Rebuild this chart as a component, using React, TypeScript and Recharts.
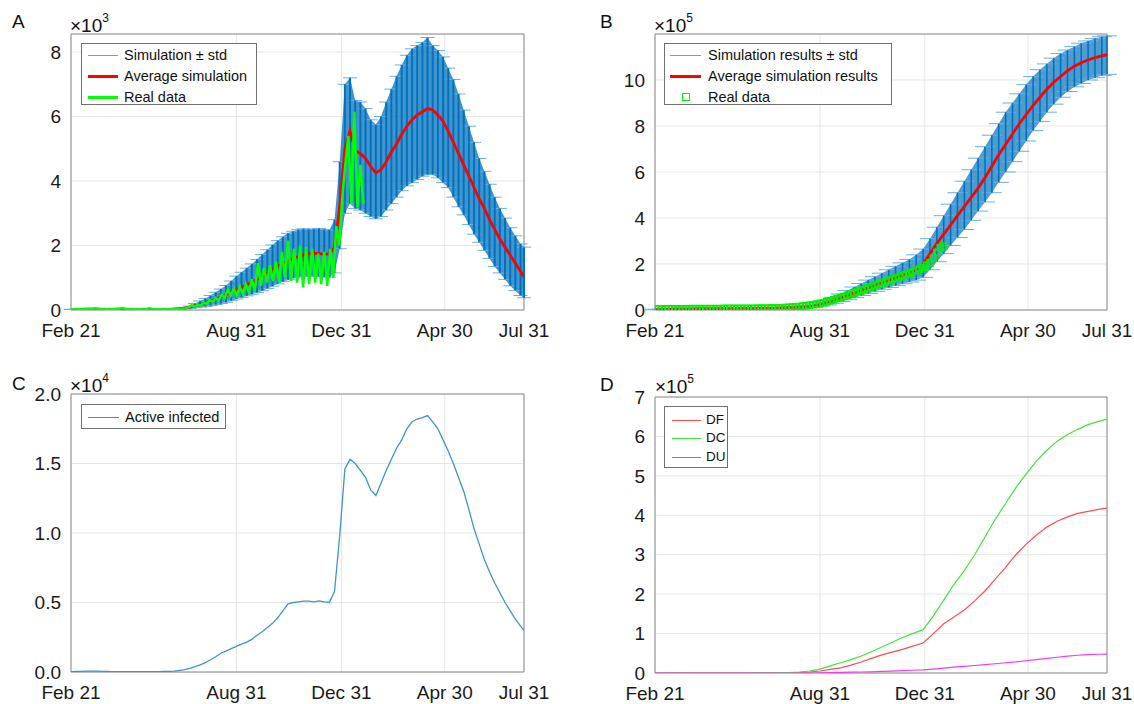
import React from "react";
import { ComposedChart, Line, Area, Scatter, XAxis, YAxis, CartesianGrid, ErrorBar, ReferenceArea } from "recharts";

const END_DAY = 526; // Feb 21 (2020) -> Jul 31 (2021)
const X_TICKS = [0, 192, 314, 434, 526];
const X_LABELS = ["Feb 21", "Aug 31", "Dec 31", "Apr 30", "Jul 31"];

// A: daily cases (x10^3), every 6 days, last point on Jul 31
const A_STEP = 6;
const aMean = [
  0.02, 0.02, 0.02, 0.03, 0.03, 0.03, 0.02, 0.02, 0.02, 0.03, 0.03, 0.02, 0.02, 0.02, 0.02, 0.02, 0.02, 0.02, 0.02, 0.02, 0.03,
  0.04, 0.06, 0.09, 0.13, 0.17, 0.22, 0.28, 0.34, 0.4, 0.47,
  0.55, 0.63, 0.7, 0.78, 0.86, 0.95, 1.04, 1.14, 1.25, 1.35,
  1.44, 1.52, 1.6, 1.66, 1.71, 1.74, 1.76, 1.75, 1.73, 1.74,
  1.95, 3.2, 5.0, 5.55, 4.95, 4.85, 4.7, 4.45, 4.25, 4.35,
  4.6, 4.9, 5.15, 5.45, 5.7, 5.9, 6.05, 6.15, 6.25, 6.2,
  6.05, 5.85, 5.55, 5.2, 4.85, 4.5, 4.15, 3.8, 3.45, 3.15,
  2.8, 2.5, 2.2, 1.95, 1.7, 1.45, 1.2,
  1.02,
];
const aUpper = [
  0.02, 0.02, 0.02, 0.03, 0.03, 0.03, 0.02, 0.02, 0.02, 0.03, 0.03, 0.02, 0.02, 0.02, 0.02, 0.02, 0.02, 0.02, 0.03, 0.03, 0.04,
  0.06, 0.08, 0.12, 0.2, 0.28, 0.36, 0.45, 0.55, 0.65, 0.76,
  0.9, 1.05, 1.17, 1.3, 1.43, 1.57, 1.72, 1.87, 2.02, 2.15,
  2.27, 2.38, 2.44, 2.49, 2.52, 2.5, 2.51, 2.53, 2.5, 2.48,
  2.8, 4.6, 7.0, 7.2, 6.5, 6.45, 6.25, 5.9, 5.75, 6.0,
  6.45, 6.85, 7.25, 7.6, 7.9, 8.1, 8.2, 8.3, 8.45, 8.2,
  8.05, 7.85, 7.5, 7.15, 6.7, 6.2, 5.7, 5.2, 4.7, 4.3,
  3.9, 3.5, 3.15, 2.85, 2.55, 2.3, 2.05,
  1.95,
];
const aLower = [
  0.02, 0.02, 0.02, 0.02, 0.02, 0.02, 0.02, 0.02, 0.02, 0.02, 0.02, 0.02, 0.02, 0.02, 0.02, 0.02, 0.02, 0.02, 0.02, 0.02, 0.02,
  0.02, 0.03, 0.05, 0.07, 0.09, 0.11, 0.14, 0.17, 0.2, 0.24,
  0.29, 0.34, 0.39, 0.44, 0.49, 0.54, 0.6, 0.67, 0.74, 0.81,
  0.88, 0.94, 0.99, 1.02, 1.04, 1.05, 1.05, 1.04, 1.03, 1.02,
  1.15, 1.9, 3.0, 3.3, 3.15, 3.1, 3.0, 2.9, 2.83, 2.9,
  3.1, 3.3, 3.5, 3.7, 3.85, 3.95, 4.05, 4.15, 4.2, 4.2,
  4.1, 3.95, 3.8, 3.5, 3.2, 2.95, 2.65, 2.35, 2.1, 1.85,
  1.6, 1.35, 1.15, 0.95, 0.75, 0.6, 0.45,
  0.38,
];
// A: real data, every 3.5 days
const A_REAL_STEP = 3.5;
const aReal = [
  0.02, 0.02, 0.03, 0.02, 0.03, 0.03, 0.04, 0.03, 0.05, 0.04,
  0.03, 0.03, 0.02, 0.03, 0.02, 0.03, 0.04, 0.06, 0.04, 0.03,
  0.03, 0.02, 0.02, 0.02, 0.03, 0.03, 0.05, 0.03, 0.02, 0.02,
  0.02, 0.03, 0.02, 0.02, 0.03, 0.02, 0.03, 0.04, 0.05, 0.08,
  0.15, 0.1, 0.16, 0.14, 0.22, 0.2, 0.3, 0.26, 0.38, 0.3,
  0.48, 0.38, 0.62, 0.45, 0.66, 0.45, 0.72, 0.5, 0.8, 0.55,
  0.95, 0.6, 1.45, 0.75, 1.3, 0.85, 1.4, 0.9, 1.5, 0.85,
  1.8, 1.0, 2.15, 0.9, 1.9, 0.85, 2.0, 0.7, 1.95, 0.8,
  1.9, 0.85, 1.75, 0.8, 1.8, 0.75, 1.9, 1.0, 2.6, 2.0,
  3.5, 4.5, 5.4, 3.3, 6.15, 3.2, 4.5, 3.3,
];

// B: cumulative cases (x10^5), every 8 days, last point on Jul 31
const B_STEP = 8;
const bMean = [
  0.02, 0.03, 0.04, 0.05, 0.05, 0.05, 0.06, 0.06, 0.06, 0.06, 0.07, 0.07, 0.07, 0.07, 0.07, 0.08, 0.08, 0.08,
  0.09, 0.1, 0.11, 0.12, 0.14, 0.17, 0.22, 0.3, 0.4, 0.52,
  0.63, 0.74, 0.85, 0.97, 1.08, 1.19, 1.3, 1.41, 1.52, 1.63,
  1.76, 2.0, 2.45, 2.9, 3.3, 3.7, 4.1, 4.5, 4.9, 5.3,
  5.75, 6.25, 6.75, 7.2, 7.65, 8.1, 8.5, 8.9, 9.25, 9.6,
  9.9, 10.15, 10.4, 10.6, 10.75, 10.87, 10.97, 11.05,
  11.1,
];
const bUpper = [
  0.03, 0.04, 0.05, 0.06, 0.06, 0.06, 0.07, 0.07, 0.07, 0.07, 0.08, 0.08, 0.08, 0.08, 0.08, 0.09, 0.09, 0.1,
  0.11, 0.12, 0.14, 0.17, 0.2, 0.26, 0.33, 0.43, 0.55, 0.7,
  0.85, 1.0, 1.15, 1.3, 1.45, 1.6, 1.75, 1.9, 2.05, 2.2,
  2.4, 2.65, 3.1, 3.6, 4.1, 4.6, 5.1, 5.6, 6.1, 6.6,
  7.1, 7.6, 8.1, 8.6, 9.0, 9.4, 9.8, 10.15, 10.45, 10.7,
  10.95, 11.15, 11.3, 11.45, 11.6, 11.7, 11.8, 11.88,
  11.92,
];
const bLower = [
  0.01, 0.02, 0.03, 0.04, 0.04, 0.04, 0.05, 0.05, 0.05, 0.05, 0.06, 0.06, 0.06, 0.06, 0.06, 0.07, 0.07, 0.07,
  0.08, 0.09, 0.09, 0.1, 0.11, 0.12, 0.17, 0.22, 0.29, 0.37,
  0.45, 0.54, 0.63, 0.72, 0.81, 0.9, 0.98, 1.06, 1.14, 1.22,
  1.3, 1.42, 1.75, 2.1, 2.45, 2.8, 3.15, 3.5, 3.9, 4.3,
  4.7, 5.1, 5.55, 6.0, 6.45, 6.9, 7.35, 7.8, 8.2, 8.6,
  8.95, 9.25, 9.5, 9.7, 9.85, 10.0, 10.1, 10.2,
  10.25,
];
// B: real data, every 4 days
const B_REAL_STEP = 4;
const bReal = [
  0.04, 0.04, 0.04, 0.05, 0.05, 0.05, 0.05, 0.05, 0.05, 0.05,
  0.06, 0.06, 0.06, 0.06, 0.06, 0.06, 0.06, 0.06, 0.06, 0.06,
  0.07, 0.07, 0.07, 0.07, 0.07, 0.07, 0.07, 0.07, 0.07, 0.07,
  0.08, 0.08, 0.08, 0.08, 0.09, 0.09,
  0.1, 0.1, 0.11, 0.12, 0.13, 0.14, 0.15, 0.17, 0.19, 0.21,
  0.23, 0.26, 0.28, 0.32, 0.36, 0.4, 0.45, 0.5, 0.54, 0.59,
  0.64, 0.69, 0.74, 0.8, 0.85, 0.9, 0.96, 1.01, 1.07, 1.12,
  1.17, 1.22, 1.28, 1.33, 1.38, 1.43, 1.49, 1.54, 1.6, 1.65,
  1.72, 1.78, 1.85, 1.95, 2.05, 2.25, 2.5, 2.7, 2.78,
];

// C: active infected (x10^4), every 6 days, last point on Jul 31
const C_STEP = 6;
const cActive = [
  0.003, 0.004, 0.005, 0.006, 0.007, 0.006, 0.005, 0.004, 0.003, 0.003, 0.003, 0.003, 0.003, 0.003, 0.003, 0.003, 0.003, 0.003, 0.004, 0.005, 0.007,
  0.011, 0.017, 0.026, 0.038, 0.052, 0.068, 0.088, 0.11, 0.135, 0.15,
  0.168, 0.185, 0.2, 0.215, 0.235, 0.265, 0.29, 0.32, 0.35, 0.39,
  0.44, 0.49, 0.5, 0.505, 0.51, 0.51, 0.505, 0.512, 0.505, 0.5,
  0.58, 0.98, 1.46, 1.53, 1.5, 1.45, 1.4, 1.31, 1.27, 1.36,
  1.45, 1.53, 1.61, 1.67, 1.75, 1.8, 1.82, 1.83, 1.845, 1.8,
  1.75, 1.67, 1.59, 1.5, 1.4, 1.3, 1.17, 1.03, 0.92, 0.81,
  0.72, 0.64, 0.57, 0.5, 0.44, 0.38, 0.33,
  0.3,
];

// D: deaths by category (x10^5), every 12 days, last point on Jul 31
const D_STEP = 12;
const dDF = [
  0, 0, 0, 0, 0, 0, 0, 0, 0, 0, 0, 0, 0, 0,
  0.01, 0.025, 0.05, 0.09, 0.13, 0.2, 0.28, 0.37, 0.46, 0.53, 0.6, 0.68, 0.76,
  1.0, 1.25, 1.42, 1.6, 1.83, 2.08, 2.38, 2.68, 3.0, 3.27, 3.5, 3.7, 3.85, 3.96, 4.05, 4.1, 4.15,
  4.18,
];
const dDC = [
  0, 0, 0, 0, 0, 0, 0, 0, 0, 0,
  0.002, 0.004, 0.007, 0.012, 0.02, 0.05, 0.1, 0.18, 0.26, 0.34, 0.43, 0.54, 0.66, 0.78, 0.9, 1.0, 1.1,
  1.45, 1.85, 2.25, 2.6, 3.0, 3.45, 3.9, 4.3, 4.7, 5.05, 5.38, 5.65, 5.88, 6.05, 6.18, 6.3, 6.38,
  6.44,
];
const dDU = [
  0, 0, 0, 0, 0, 0, 0, 0, 0, 0, 0, 0, 0, 0, 0, 0,
  0.005, 0.01, 0.015, 0.02, 0.025, 0.03, 0.04, 0.05, 0.06, 0.07, 0.08,
  0.1, 0.125, 0.15, 0.17, 0.19, 0.21, 0.235, 0.26, 0.28, 0.31, 0.34, 0.37, 0.4, 0.43, 0.45, 0.465, 0.475,
  0.48,
];

const rowsOf = (step: number, cols: Record<string, number[]>, toEnd: boolean) => {
  const keys = Object.keys(cols);
  const n = cols[keys[0]].length;
  return Array.from({ length: n }, (_, i) => {
    const row: any = { day: toEnd && i === n - 1 ? END_DAY : i * step };
    keys.forEach((k) => (row[k] = cols[k][i]));
    return row;
  });
};

const withBand = (rows: any[]) =>
  rows.map((r) => ({ ...r, band: [r.lo, r.hi], err: [r.mean - r.lo, r.hi - r.mean] }));

const aRows = withBand(rowsOf(A_STEP, { mean: aMean, hi: aUpper, lo: aLower }, true));
const aRealRows = rowsOf(A_REAL_STEP, { v: aReal }, false);
const bRows = withBand(rowsOf(B_STEP, { mean: bMean, hi: bUpper, lo: bLower }, true));
const bRealRows = rowsOf(B_REAL_STEP, { v: bReal }, false);
const cRows = rowsOf(C_STEP, { active: cActive }, true);
const dRows = rowsOf(D_STEP, { DF: dDF, DC: dDC, DU: dDU }, true);

const FONT = "'Liberation Sans', Arial, Helvetica, sans-serif";
const tickStyle = { fontSize: 19, fill: "#1a1a1a", fontFamily: FONT };
const GRID = "#e6e6e6";
const BOX = "#8c8c8c";
const BLUE = "#0072BD";

const xAxisProps: any = {
  type: "number",
  dataKey: "day",
  domain: [0, END_DAY],
  ticks: X_TICKS,
  tickFormatter: (v: number) => X_LABELS[X_TICKS.indexOf(v)],
  interval: 0,
  tickLine: false,
  axisLine: false,
  tickSize: 0,
  tickMargin: 14,
  tick: tickStyle,
  height: 30,
  allowDataOverflow: true,
};
const yAxisProps: any = {
  type: "number",
  interval: 0,
  tickLine: false,
  axisLine: false,
  tickSize: 0,
  tickMargin: 10,
  tick: tickStyle,
  allowDataOverflow: true,
};

const Square = (props: any) => {
  const { cx, cy } = props;
  if (cx == null || cy == null) return null;
  return <rect x={cx - 3} y={cy - 3} width={6} height={6} fill="none" stroke="#00f000" strokeWidth={1.5} />;
};

type Row = { label: string; color: string; width: number; kind?: "line" | "square" };

const LegendBox = ({ left, top, width, height, rows, rowY, sampleX, sampleW, textX, fontSize }: any) => (
  <div
    style={{
      position: "absolute",
      left,
      top,
      width,
      height,
      border: "1px solid #707070",
      background: "#fff",
      boxSizing: "border-box",
      fontSize,
      fontFamily: FONT,
      color: "#111",
    }}
  >
    {rows.map((r: Row, i: number) => (
      <React.Fragment key={r.label}>
        {r.kind === "square" ? (
          <div
            style={{
              position: "absolute",
              left: sampleX + sampleW / 2 - 4,
              top: rowY[i] - 4,
              width: 8,
              height: 8,
              border: `1.5px solid ${r.color}`,
              boxSizing: "border-box",
            }}
          />
        ) : (
          <div
            style={{
              position: "absolute",
              left: sampleX,
              top: rowY[i] - r.width / 2,
              width: sampleW,
              height: r.width,
              background: r.color,
            }}
          />
        )}
        <div style={{ position: "absolute", left: textX, top: rowY[i] - 10, height: 20, lineHeight: "20px", whiteSpace: "nowrap" }}>
          {r.label}
        </div>
      </React.Fragment>
    ))}
  </div>
);

const Letter = ({ left, top, text }: any) => (
  <div style={{ position: "absolute", left, top, fontSize: 19, lineHeight: "19px", fontFamily: FONT, color: "#111" }}>{text}</div>
);

const Exponent = ({ left, top, exp }: any) => (
  <div style={{ position: "absolute", left, top, fontSize: 19, lineHeight: "19px", fontFamily: FONT, color: "#111", whiteSpace: "nowrap" }}>
    ×10<span style={{ fontSize: 12, position: "relative", top: -10 }}>{exp}</span>
  </div>
);

const App = () => {
  return (
    <div style={{ position: "absolute", left: 0, top: 0, width: 1134, height: 704, background: "#fff", fontFamily: FONT }}>
      {/* A */}
      <div style={{ position: "absolute", left: 0, top: 0 }}>
        <ComposedChart width={567} height={352} margin={{ top: 34, right: 43, bottom: 12, left: 0 }}>
          <CartesianGrid stroke={GRID} />
          <XAxis {...xAxisProps} />
          <YAxis {...yAxisProps} width={71} domain={[0, 8.56]} ticks={[0, 2, 4, 6, 8]} />
          <Area data={aRows} dataKey="band" stroke="none" fill={BLUE} fillOpacity={0.75} isAnimationActive={false} />
          <Line data={aRows} dataKey="mean" stroke="none" dot={false} isAnimationActive={false}>
            <ErrorBar dataKey="err" direction="y" width={7} stroke="#6aaee6" strokeWidth={1} isAnimationActive={false} />
            <ErrorBar dataKey="err" direction="y" width={0} stroke={BLUE} strokeWidth={2} isAnimationActive={false} />
          </Line>
          <Line data={aRows} dataKey="mean" stroke="#ff0000" strokeWidth={2.8} dot={false} isAnimationActive={false} />
          <Line data={aRealRows} dataKey="v" stroke="#00ff00" strokeWidth={2.5} dot={false} isAnimationActive={false} />
          <ReferenceArea x1={0} x2={END_DAY} y1={0} y2={8.56} fill="none" stroke={BOX} strokeWidth={1} ifOverflow="visible" />
        </ComposedChart>
      </div>

      {/* B */}
      <div style={{ position: "absolute", left: 567, top: 0 }}>
        <ComposedChart width={567} height={352} margin={{ top: 34, right: 27, bottom: 12, left: 0 }}>
          <CartesianGrid stroke={GRID} />
          <XAxis {...xAxisProps} />
          <YAxis {...yAxisProps} width={88} domain={[0, 12]} ticks={[0, 2, 4, 6, 8, 10]} />
          <Area data={bRows} dataKey="band" stroke="none" fill={BLUE} fillOpacity={0.7} isAnimationActive={false} />
          <Line data={bRows} dataKey="mean" stroke="none" dot={false} isAnimationActive={false}>
            <ErrorBar dataKey="err" direction="y" width={10} stroke="#6aaee6" strokeWidth={1} isAnimationActive={false} />
            <ErrorBar dataKey="err" direction="y" width={0} stroke={BLUE} strokeWidth={1.6} isAnimationActive={false} />
          </Line>
          <Line data={bRows} dataKey="mean" stroke="#ff0000" strokeWidth={2.8} dot={false} isAnimationActive={false} />
          <Scatter data={bRealRows} dataKey="v" shape={<Square />} isAnimationActive={false} />
          <ReferenceArea x1={0} x2={END_DAY} y1={0} y2={12} fill="none" stroke={BOX} strokeWidth={1} ifOverflow="visible" />
        </ComposedChart>
      </div>

      {/* C */}
      <div style={{ position: "absolute", left: 0, top: 360 }}>
        <ComposedChart width={567} height={344} margin={{ top: 34, right: 43, bottom: 2, left: 0 }}>
          <CartesianGrid stroke={GRID} />
          <XAxis {...xAxisProps} />
          <YAxis {...yAxisProps} width={71} domain={[0, 2]} ticks={[0, 0.5, 1, 1.5, 2]} tickFormatter={(v: number) => v.toFixed(1)} />
          <Line data={cRows} dataKey="active" stroke="#3f93d2" strokeWidth={1.3} dot={false} isAnimationActive={false} />
          <ReferenceArea x1={0} x2={END_DAY} y1={0} y2={2} fill="none" stroke={BOX} strokeWidth={1} ifOverflow="visible" />
        </ComposedChart>
      </div>

      {/* D */}
      <div style={{ position: "absolute", left: 567, top: 360 }}>
        <ComposedChart width={567} height={344} margin={{ top: 37, right: 27, bottom: 1, left: 0 }}>
          <CartesianGrid stroke={GRID} />
          <XAxis {...xAxisProps} />
          <YAxis {...yAxisProps} width={88} domain={[0, 7]} ticks={[0, 1, 2, 3, 4, 5, 6, 7]} />
          <Line data={dRows} dataKey="DF" stroke="#ff4d4d" strokeWidth={1.2} dot={false} isAnimationActive={false} />
          <Line data={dRows} dataKey="DC" stroke="#3ce63c" strokeWidth={1.2} dot={false} isAnimationActive={false} />
          <Line data={dRows} dataKey="DU" stroke="#f03cf0" strokeWidth={1.2} dot={false} isAnimationActive={false} />
          <ReferenceArea x1={0} x2={END_DAY} y1={0} y2={7} fill="none" stroke={BOX} strokeWidth={1} ifOverflow="visible" />
        </ComposedChart>
      </div>

      <Letter left={12} top={12} text="A" />
      <Letter left={600} top={12} text="B" />
      <Letter left={12} top={374} text="C" />
      <Letter left={600} top={375} text="D" />
      <Exponent left={70} top={16} exp="3" />
      <Exponent left={654} top={16} exp="5" />
      <Exponent left={70} top={376} exp="4" />
      <Exponent left={655} top={377} exp="5" />

      <LegendBox
        left={81}
        top={43}
        width={176}
        height={62}
        fontSize={14.5}
        rowY={[11, 32, 53]}
        sampleX={6}
        sampleW={30}
        textX={42}
        rows={[
          { label: "Simulation ± std", color: "#5aa5e0", width: 1 },
          { label: "Average simulation", color: "#ff0000", width: 3 },
          { label: "Real data", color: "#00ff00", width: 3 },
        ]}
      />
      <LegendBox
        left={664}
        top={43}
        width={228}
        height={62}
        fontSize={14.5}
        rowY={[11, 32, 53]}
        sampleX={5}
        sampleW={31}
        textX={43}
        rows={[
          { label: "Simulation results ± std", color: "#5aa5e0", width: 1 },
          { label: "Average simulation results", color: "#ff0000", width: 3 },
          { label: "Real data", color: "#00f000", width: 1, kind: "square" },
        ]}
      />
      <LegendBox
        left={81}
        top={404}
        width={145}
        height={25}
        fontSize={14.5}
        rowY={[12]}
        sampleX={6}
        sampleW={31}
        textX={43}
        rows={[{ label: "Active infected", color: "#3f93d2", width: 1 }]}
      />
      <LegendBox
        left={664}
        top={406}
        width={64}
        height={62}
        fontSize={13.5}
        rowY={[13, 31, 50]}
        sampleX={7}
        sampleW={29}
        textX={41}
        rows={[
          { label: "DF", color: "#ff4d4d", width: 1 },
          { label: "DC", color: "#3ce63c", width: 1 },
          { label: "DU", color: "#f03cf0", width: 1 },
        ]}
      />
    </div>
  );
};

export default App;
